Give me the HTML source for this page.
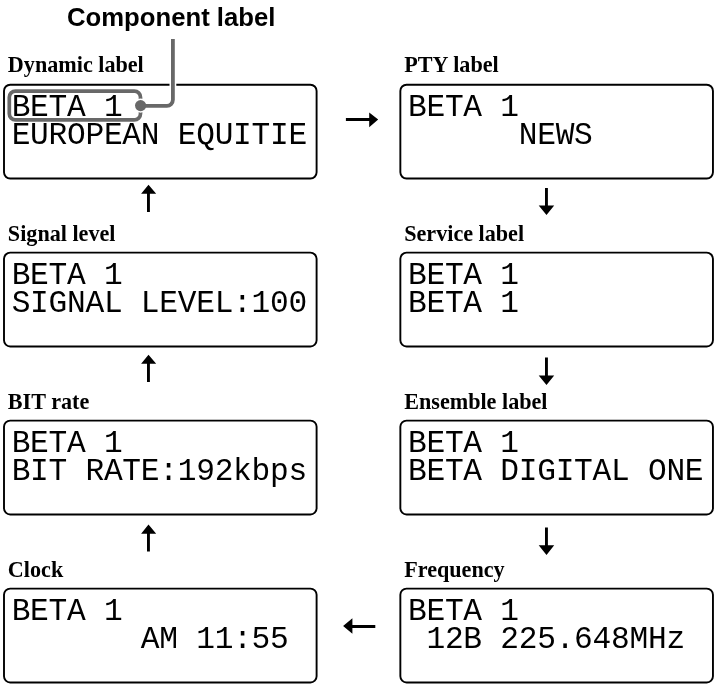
<!DOCTYPE html>
<html lang="en">
<head>
<meta charset="utf-8">
<title>Display modes</title>
<style>
html,body{margin:0;padding:0;background:#fff;}
body{width:717px;height:686px;overflow:hidden;}
svg{display:block;will-change:transform;}
.box{fill:#fff;stroke:#000;stroke-width:1.9;}
.lab{font-family:"Liberation Serif","DejaVu Serif",serif;font-weight:bold;font-size:22.15px;fill:#000;}
.ttl{font-family:"Liberation Sans","DejaVu Sans",sans-serif;font-weight:bold;font-size:25.7px;fill:#000;}
.lcd{font-family:"Liberation Mono","DejaVu Sans Mono",monospace;font-size:31.2px;fill:#000;letter-spacing:-0.26px;}
.arr{fill:#000;}
</style>
</head>
<body>
<svg width="717" height="686" viewBox="0 0 717 686">
<rect x="0" y="0" width="717" height="686" fill="#fff"/>
<text class="ttl" x="67" y="26">Component label</text>
<rect class="box" x="4" y="84.7" width="312.6" height="93.85" rx="6.2" ry="6.2"/>
<text class="lab" x="7.85" y="72">Dynamic label</text>
<text class="lcd" x="11.65" y="115.85">BETA 1</text>
<text class="lcd" x="11.65" y="143.65">EUROPEAN EQUITIE</text>
<rect class="box" x="400.35" y="84.7" width="312.6" height="93.85" rx="6.2" ry="6.2"/>
<text class="lab" x="404.2" y="72">PTY label</text>
<text class="lcd" x="408" y="115.85">BETA 1</text>
<text class="lcd" x="518.76" y="143.65">NEWS</text>
<rect class="box" x="4" y="252.66" width="312.6" height="93.85" rx="6.2" ry="6.2"/>
<text class="lab" x="7.85" y="241">Signal level</text>
<text class="lcd" x="11.65" y="283.81">BETA 1</text>
<text class="lcd" x="11.65" y="311.61">SIGNAL LEVEL:100</text>
<rect class="box" x="400.35" y="252.66" width="312.6" height="93.85" rx="6.2" ry="6.2"/>
<text class="lab" x="404.2" y="241">Service label</text>
<text class="lcd" x="408" y="283.81">BETA 1</text>
<text class="lcd" x="408" y="311.61">BETA 1</text>
<rect class="box" x="4" y="420.62" width="312.6" height="93.85" rx="6.2" ry="6.2"/>
<text class="lab" x="7.85" y="409">BIT rate</text>
<text class="lcd" x="11.65" y="451.77">BETA 1</text>
<text class="lcd" x="11.65" y="479.57">BIT RATE:192kbps</text>
<rect class="box" x="400.35" y="420.62" width="312.6" height="93.85" rx="6.2" ry="6.2"/>
<text class="lab" x="404.2" y="409">Ensemble label</text>
<text class="lcd" x="408" y="451.77">BETA 1</text>
<text class="lcd" x="408" y="479.57">BETA DIGITAL ONE</text>
<rect class="box" x="4" y="588.58" width="312.6" height="93.85" rx="6.2" ry="6.2"/>
<text class="lab" x="7.85" y="577">Clock</text>
<text class="lcd" x="11.65" y="619.73">BETA 1</text>
<text class="lcd" x="140.87" y="647.53">AM 11:55</text>
<rect class="box" x="400.35" y="588.58" width="312.6" height="93.85" rx="6.2" ry="6.2"/>
<text class="lab" x="404.2" y="577">Frequency</text>
<text class="lcd" x="408" y="619.73">BETA 1</text>
<text class="lcd" x="426.46" y="647.53">12B 225.648MHz</text>
<g class="arr">
<path d="M345.9 118.1H369.2V112.5L378.2 119.6L369.2 127.2V121.1H345.9Z"/>
<path d="M375.3 625.1H352.4V618.3L343.1 626.1L352.4 633.8V627.9H375.3Z"/>
<path d="M545 187.9H547.9V205.6H554.2L546.5 215.1L538.7 205.6H545Z"/>
<path d="M545 357.5H547.9V375.4H554.2L546.5 385.1L538.7 375.4H545Z"/>
<path d="M545 527.4H547.9V545.3H554.2L546.5 554.9L538.7 545.3H545Z"/>
<path d="M147 212.1H149.9V193.8H156.2L148.5 184.8L141.1 193.8H147Z"/>
<path d="M147 382H149.9V363.7H156.2L148.5 354.8L141.1 363.7H147Z"/>
<path d="M147 551.6H149.9V533.7H156.2L148.5 524.5L141.1 533.7H147Z"/>
</g>
<g fill="none" stroke-linejoin="round">
<rect x="9.3" y="91.1" width="131.2" height="28.8" rx="6.2" ry="6.2" stroke="#686868" stroke-width="3.7"/>
<path d="M172.9 41V99.8A6 6 0 0 1 166.9 105.8H140.6" stroke="#fff" stroke-width="6.8"/>
<circle cx="140.6" cy="105.6" r="7.1" fill="#fff" stroke="none"/>
<path d="M172.9 39.1V99.8A6 6 0 0 1 166.9 105.8H140.6" stroke="#686868" stroke-width="3.8"/>
<circle cx="140.6" cy="105.6" r="5.6" fill="#686868" stroke="none"/>
</g>
</svg>
</body>
</html>
